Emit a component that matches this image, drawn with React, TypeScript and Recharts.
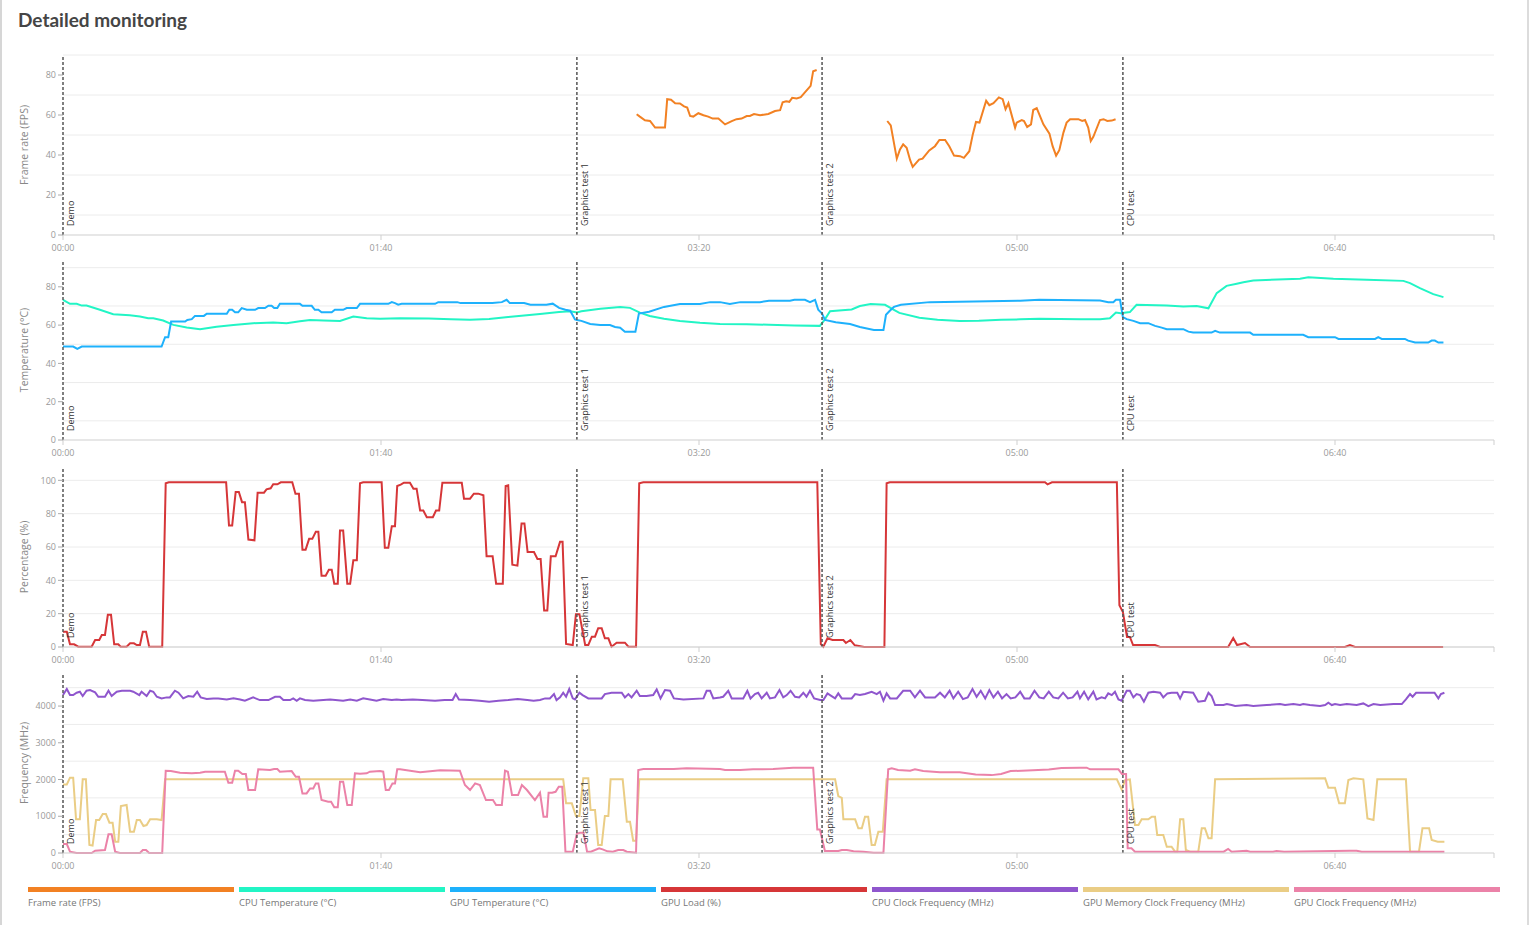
import React from "react";
import { LineChart, Line, XAxis, YAxis, ReferenceLine, CartesianGrid } from "recharts";

type Pt = [number, number | null];

// test stages (seconds)
const stageTimes = [0, 161.6, 238.7, 333.3];
const stageNames = ["Demo", "Graphics test 1", "Graphics test 2", "CPU test"];
const timeTicks = [0, 100, 200, 300, 400, 450];

const fps: Pt[] = [
  [180.4, 60.4], [181.4, 59.2], [183, 57.4], [184.6, 57], [186.2, 53.7], [189.3, 53.7], [190, 67.9], [191.2, 67.6],
  [192.5, 65.9], [194, 65.8], [195.3, 64.3], [196.3, 63.7], [197.2, 59.5], [198.2, 59.2], [199.8, 60.9], [201.4, 59.9],
  [202.9, 59.2], [204.3, 58.2], [206.1, 58.2], [208.2, 55.3], [210.3, 56.9], [211.8, 57.9], [213.4, 58.2], [215, 59.5],
  [216, 59.5], [217.3, 60.5], [219.2, 59.9], [221.8, 60.5], [223.9, 62], [225.5, 62.4], [226.3, 66.3], [227.4, 66.9],
  [228.4, 66.6], [229.3, 68.6], [230.7, 68.3], [232, 68.9], [233.3, 71.3], [235.1, 74.6], [235.9, 81.9], [237, 82.5],
  [248, null],
  [259.2, 57], [260.3, 54.8], [262.2, 38.2], [263.2, 42.8], [264.2, 45.3], [265.3, 43.6], [266.4, 37.4], [267.2, 34.1],
  [269.2, 37.7], [270.3, 38.2], [272.4, 42.3], [274.2, 44.4], [275.6, 47.5], [277.4, 47.5], [278.7, 44.4], [280.2, 39.7],
  [282.1, 39.4], [283.3, 38.6], [285, 41.9], [286.1, 50.3], [287.1, 56.5], [288.2, 56.2], [290.3, 67.1], [291.3, 64.9],
  [292.6, 65.9], [294.3, 68.8], [295.5, 67.9], [296.4, 62.9], [297.3, 65.9], [299.4, 53.7], [299.9, 56.2], [301.5, 57.5],
  [302.2, 57], [303.2, 54], [304.4, 55.3], [305.1, 62.5], [306.2, 63.4], [308.3, 55.3], [310.2, 50.7], [311.2, 44.4],
  [312.3, 39.7], [313.3, 42.4], [314.6, 51.2], [315.6, 56.2], [316.7, 57.9], [319.3, 57.9], [320.5, 57], [321.4, 57.5],
  [322.4, 53.7], [323.2, 47], [324, 49.1], [326.1, 57.5], [327.2, 57.9], [328.4, 57], [329.8, 57.2], [331, 57.9],
];

const cpuTemp: Pt[] = [
  [0, 73.2], [2.2, 71.1], [4.3, 71.1], [5.9, 70.2], [7.4, 70.2], [11.6, 68], [15.8, 65.7], [21, 65.2], [24.2, 64.5],
  [26.8, 63.6], [28.4, 63.6], [31.5, 62.4], [34.7, 60.1], [38.9, 58.7], [43.1, 57.9], [48.3, 59.2], [53.6, 60], [59.8, 61],
  [66.1, 61.3], [70.3, 61], [74.5, 62], [77.7, 62.7], [81.9, 62.4], [87.1, 62.2], [91.3, 64.5], [95.5, 63.6], [99.7, 63.3],
  [106, 63.6], [115, 63.4], [122, 63.1], [128, 62.8], [134, 63.2], [140, 64.2], [145, 65], [150, 65.8], [156, 66.8],
  [159.5, 67.2], [161.6, 66.6], [163, 67.2], [169, 68.5], [175.2, 69.5], [178.3, 69], [181.4, 66.5], [184.5, 64.8],
  [189, 63.3], [194, 62.2], [200.3, 61.2], [206.6, 60.6], [215, 60.4], [222, 60.2], [230, 59.8], [238, 59.6],
  [239.6, 63], [241.2, 67.2], [245, 67.8], [248, 68.2], [250.6, 70], [254, 71], [258.5, 70.6], [261.3, 68], [263, 66.4],
  [269.3, 63.8], [275, 62.8], [282, 62.2], [288, 62.3], [295, 62.8], [301, 63], [307, 63.3], [313.5, 63.2], [320, 63.1],
  [326.1, 63.1], [329.2, 63.6], [331.1, 66.6], [332.6, 66.2], [334.3, 66.6], [335.5, 66.8], [337.6, 70.6], [347.1, 70.2],
  [352.3, 69.7], [356.5, 70], [360.2, 68.8], [362.8, 76.7], [365.9, 80.5], [369.1, 81.6], [371.2, 82.4], [374.3, 83.3],
  [389, 84.2], [391.6, 85], [399.5, 84.2], [410, 83.7], [421.5, 83.1], [423.6, 81.9], [426.7, 79.3], [430.9, 76.2],
  [434.1, 74.6],
];

const gpuTemp: Pt[] = [
  [0, 48.8], [3.2, 48.8], [4.5, 47.6], [5.9, 48.8], [31, 48.8], [32.1, 53.7], [33.1, 53.7], [34, 61.9], [38.4, 61.9],
  [39.1, 62.7], [40.5, 63.1], [41.5, 64.8], [44.3, 64.8], [45.2, 65.9], [51.5, 65.9], [52.3, 68], [53.2, 68], [54.1, 66.7],
  [55.1, 66.7], [56.2, 68.9], [57.8, 68], [60.4, 68], [61.4, 68.9], [63.5, 68.9], [64.6, 70.1], [65.6, 70.1], [66.4, 68.9],
  [67.4, 68.9], [68.2, 71.1], [74.5, 71.1], [75.3, 70.1], [78.2, 70.1], [79.2, 68], [80.3, 68], [81.3, 66.7], [84.5, 66.7],
  [85.5, 68], [88.1, 68], [89.2, 68.9], [92.4, 68.9], [93.4, 71.1], [102.3, 71.1], [103.4, 72], [104.4, 71.5], [105.4, 70.7],
  [106.5, 71.1], [117, 71.1], [118, 72], [124, 72], [125, 71.5], [135, 71.5], [138, 72], [139.5, 73.2], [140.5, 71.5],
  [145, 71.5], [147, 70.6], [152, 70.6], [154, 71.2], [156, 69], [158, 68], [159.5, 67.5], [161, 63], [161.6, 62.7],
  [163, 62.2], [165.8, 60.6], [168.9, 60], [172, 60], [173.6, 59], [175.2, 58.6], [176.7, 56.5], [180, 56.5], [181.1, 66],
  [184.3, 67], [189, 69.5], [194, 71], [200.3, 71], [203.5, 72], [206.6, 72], [209.7, 71], [213, 72], [219.2, 72],
  [222, 72.7], [228.6, 72.7], [230, 73.2], [233.3, 73.2], [234.9, 72], [236.5, 73.2], [237.5, 68], [238.7, 66],
  [239.6, 62.7], [243, 61.5], [247.5, 60.6], [250.6, 59], [255, 57.5], [258, 57.5], [258.8, 65.4], [260, 67.5],
  [261.3, 69.5], [263.5, 70.6], [272.6, 72], [301, 72.7], [307, 73.2], [326.1, 72.8], [328.7, 72], [330.3, 72],
  [331.1, 73.2], [332.4, 73.2], [333.3, 64.2], [334.5, 63.1], [336.6, 62.2], [338.7, 61], [341.3, 61], [343.4, 59.6],
  [345.5, 58.7], [347.1, 57.9], [352.3, 57.9], [353.9, 56.6], [355.4, 56.1], [361.2, 56.1], [362.3, 57], [363.8, 56.1],
  [373.3, 56.1], [374.3, 54.9], [390, 54.9], [391.6, 53.7], [400, 53.7], [401.1, 52.8], [412.6, 52.8], [413.6, 53.7],
  [414.7, 52.8], [422, 52.8], [423, 51.9], [425.2, 50.9], [429.3, 50.9], [430.4, 51.9], [431.4, 51.9], [432.5, 50.9],
  [434.1, 50.9],
];

const gpuLoad: Pt[] = [
  [0, 9.2], [1.2, 9.2], [2.2, 1.6], [3.5, 1.6], [4.8, 0.2], [9, 0.2], [10.1, 4.2], [11.4, 4.2], [12.2, 7.2], [13.2, 7.2],
  [14.1, 19.3], [15.1, 19.3], [16.1, 1.6], [17.4, 1.6], [18.1, 0.2], [20, 0.2], [21.1, 2.2], [22.3, 2.2], [23.2, 1.2],
  [24.2, 1.2], [25.1, 9.2], [26.1, 9.2], [27.1, 0.2], [31.2, 0.2], [32.3, 98.2], [33.3, 98.8], [51.3, 98.8], [52.2, 72.9],
  [53.2, 72.9], [54.3, 93], [55.3, 93], [56.3, 86.9], [57.2, 86.9], [58.3, 64.5], [60.2, 64], [61.2, 92.6], [63.2, 92.6],
  [64, 94.6], [65.3, 95.2], [66.1, 97.6], [67.4, 97.6], [68.5, 98.8], [72.1, 98.8], [73.1, 92], [74.2, 92], [75.3, 58.4],
  [76.3, 58.4], [77.4, 64.9], [78.4, 64.9], [79.5, 69.1], [80.3, 69.1], [81.3, 42.8], [82.6, 42.8], [83.6, 46.4],
  [84.5, 46.4], [85.3, 38], [86.4, 38], [87.1, 69.9], [88.1, 69.9], [89.4, 38], [90.3, 38], [91.3, 52], [92.4, 52],
  [93.4, 98.2], [94.4, 98.8], [100.2, 98.8], [101.2, 59.5], [102.3, 59.5], [103.4, 72.5], [104.4, 72.5], [105.1, 96.6],
  [106.2, 97.4], [107.2, 98.6], [109.1, 98.6], [110.2, 95], [111.2, 95], [112.3, 81.9], [113.3, 81.9], [114.4, 77.9],
  [116.3, 77.9], [117.3, 81.9], [118.3, 81.9], [119.3, 98.6], [125.4, 98.6], [126.1, 89], [128, 89], [129.2, 92],
  [130.6, 92], [132.2, 91], [133.2, 54.4], [135.1, 54.4], [136.2, 38], [138.3, 38], [139.2, 96.6], [140, 97], [141.3, 49.4],
  [142.9, 48.8], [144.2, 74.1], [145.1, 74.1], [146.1, 57], [148.1, 57], [149.2, 52.8], [150.2, 52.8], [151.3, 21.9],
  [152.3, 21.9], [153.4, 54.4], [154.9, 54.4], [156.3, 63.1], [157.1, 63.1], [158.2, 1.8], [160.3, 1.2], [161.3, 19.7],
  [162.4, 19.7], [164.2, 1.2], [165.2, 1.2], [166.3, 6.2], [167.3, 6.2], [168.3, 11.3], [169.4, 11.3], [170.4, 5.2],
  [171.5, 5.2], [172.5, 0.2], [174.1, 2.6], [176.7, 2.6], [177.8, 0.2], [180.2, 0.2], [181.2, 98.2], [182.5, 98.8],
  [237.2, 98.8], [238.3, 1.8], [239.1, 0.2], [240.4, 5.2], [242, 4.2], [245.4, 4.2], [246.2, 2.4], [247.6, 4.2], [249, 1],
  [252, 0], [258.3, 0], [259, 98.2], [260, 98.8], [308.8, 98.8], [309.6, 97.6], [311, 98.8], [331.4, 98.8], [332.2, 25],
  [333.3, 21], [334.6, 6], [335.5, 6], [336.5, 1.2], [343.4, 1.2], [345, 0], [366.4, 0], [368, 5.4], [369.2, 1.2],
  [371.7, 2.4], [373.3, 0], [403.1, 0], [404.7, 1.2], [406.3, 0], [434, 0],
];

const cpuClock: Pt[] = [
  [0, 4299], [1.2, 4463], [2.2, 4299], [3.2, 4299], [4.3, 4363], [5.3, 4390], [6.2, 4272], [7.4, 4417], [8.5, 4435],
  [10.1, 4372], [11.1, 4254], [13.2, 4254], [14.3, 4417], [15.3, 4272], [16.9, 4390], [18.5, 4417], [21.1, 4417],
  [22.1, 4390], [24, 4299], [24.7, 4390], [26.3, 4272], [27.4, 4417], [28.4, 4390], [29.5, 4254], [31, 4209], [32.6, 4236],
  [33.6, 4236], [35.2, 4417], [36.3, 4363], [37.8, 4209], [39.4, 4272], [41, 4254], [42.2, 4390], [43.3, 4236], [45.2, 4190],
  [47.3, 4209], [48.8, 4209], [51.5, 4181], [53.6, 4209], [55.7, 4181], [57.2, 4145], [59.8, 4236], [61.9, 4163],
  [64.6, 4163], [66.7, 4254], [68.2, 4254], [69.3, 4163], [71.4, 4163], [72.4, 4209], [73.5, 4145], [74.5, 4209],
  [76.1, 4163], [78.7, 4145], [84, 4181], [88.1, 4145], [90.3, 4181], [92.4, 4145], [94.4, 4209], [96.5, 4181],
  [98.6, 4145], [100.7, 4190], [103.4, 4163], [104.9, 4181], [106.5, 4163], [110, 4181], [113, 4163], [117, 4145],
  [120, 4163], [122.5, 4163], [123.5, 4327], [124.5, 4181], [128, 4163], [131, 4145], [134, 4118], [137, 4145], [140, 4163],
  [143, 4190], [146, 4163], [148, 4145], [150, 4163], [151.6, 4209], [153.1, 4209], [154.4, 4327], [155.2, 4163],
  [156.3, 4236], [157.3, 4363], [158.2, 4254], [159.2, 4463], [160.3, 4209], [161, 4181], [162.4, 4363], [163.4, 4299],
  [165.2, 4209], [169.4, 4209], [170.4, 4327], [172.5, 4363], [175.7, 4363], [176.7, 4236], [177.8, 4327], [178.8, 4236],
  [180.4, 4417], [181.4, 4272], [183.5, 4272], [185.6, 4299], [186.7, 4454], [187.9, 4209], [189.3, 4435], [190.9, 4417],
  [192.1, 4209], [195.1, 4181], [201.4, 4209], [202.4, 4417], [203.5, 4417], [204.5, 4209], [206.6, 4236], [207.6, 4254],
  [209.2, 4417], [210.3, 4209], [213.9, 4209], [215.2, 4417], [216.2, 4209], [217.6, 4327], [218.6, 4363], [219.7, 4209],
  [221.3, 4363], [222.3, 4209], [223.9, 4236], [225.3, 4435], [226.5, 4236], [227.6, 4299], [228.8, 4417], [230.2, 4254],
  [231.5, 4236], [232.8, 4363], [233.8, 4254], [234.9, 4417], [236.2, 4209], [238.1, 4163], [239.1, 4163], [240.4, 4345],
  [241.7, 4272], [242.8, 4209], [243.8, 4345], [244.9, 4209], [248, 4209], [249.1, 4327], [250.6, 4299], [252.2, 4327],
  [254.3, 4390], [255.9, 4327], [256.9, 4390], [258, 4145], [259, 4345], [260.1, 4209], [262.2, 4209], [264.2, 4417],
  [266.4, 4417], [267.9, 4236], [269.5, 4417], [271.1, 4236], [274.2, 4236], [275.8, 4363], [277.3, 4236], [278.8, 4417],
  [280, 4209], [281.5, 4390], [283, 4190], [284.5, 4236], [286, 4463], [287.3, 4254], [288.6, 4417], [290, 4209],
  [291.3, 4435], [292.6, 4236], [294, 4390], [295.3, 4209], [296.7, 4327], [298, 4209], [299.5, 4236], [301, 4390],
  [302.3, 4209], [304, 4209], [305.5, 4417], [307, 4236], [308.4, 4209], [310, 4390], [311.4, 4236], [313, 4209],
  [314.5, 4363], [316, 4209], [317.5, 4236], [319, 4390], [319.8, 4209], [321.1, 4390], [322.4, 4181], [324, 4390],
  [325, 4181], [326.6, 4236], [327.7, 4209], [328.7, 4345], [329.8, 4299], [330.8, 4390], [331.9, 4181], [332.9, 4145],
  [334.5, 4417], [335.5, 4417], [336.6, 4236], [337.6, 4327], [338.7, 4299], [339.9, 4118], [341.3, 4363], [342.9, 4390],
  [345, 4363], [346, 4236], [347.3, 4345], [348.6, 4363], [350.4, 4363], [351.3, 4209], [352.3, 4390], [355.4, 4363],
  [357, 4118], [359.1, 4145], [360.2, 4363], [361.2, 4272], [362.3, 4027], [364.9, 4027], [366, 4054], [367.5, 4027],
  [368.6, 4000], [372.2, 4027], [374.3, 4000], [378.5, 4027], [382.7, 4054], [384.3, 4027], [386.9, 4054], [389, 4027],
  [390, 4054], [392.1, 4027], [395.3, 4000], [396.9, 4027], [397.9, 4090], [399, 4027], [400, 4054], [401.6, 4027],
  [403.7, 4054], [406.8, 4027], [408.9, 4072], [410.5, 4000], [412.1, 4054], [414.2, 4027], [418.4, 4054], [421, 4054],
  [422.3, 4181], [423.6, 4327], [424.4, 4254], [425.5, 4363], [428.1, 4363], [431.3, 4363], [432.5, 4209], [433.3, 4327],
  [434.4, 4363],
];

const gpuMemClock: Pt[] = [
  [0, 1868], [1.2, 1868], [2.2, 2050], [3.2, 2050], [4.1, 916], [5.3, 916], [6.2, 2005], [7.2, 2005], [8.3, 218], [9.3, 200],
  [10.4, 898], [11.4, 898], [12.5, 1061], [13.5, 1061], [14.6, 825], [15.6, 825], [16.4, 308], [17.4, 308], [18.2, 1279],
  [20, 1306], [21.1, 580], [22.3, 580], [23.2, 898], [24.2, 898], [25.3, 735], [26.3, 760], [27.4, 916], [29.5, 916],
  [31, 898], [32.1, 2005], [157.3, 2005], [158.2, 1351], [160, 1351], [161.3, 1007], [162.4, 1007], [163.6, 2032],
  [165.2, 2032], [165.9, 1170], [167.3, 1170], [168.3, 218], [169.4, 218], [170.4, 1007], [171.5, 1007], [172.2, 2005],
  [176, 2005], [177.3, 850], [178.3, 850], [179.3, 335], [180.2, 335], [181.2, 2005], [242.8, 2005], [243.8, 1551],
  [244.9, 1500], [245.4, 916], [249.1, 916], [250.1, 671], [251.2, 671], [252.2, 989], [253.2, 989], [254.3, 218],
  [255.3, 218], [256.4, 580], [257.8, 580], [259, 2005], [331.4, 2005], [332.9, 1733], [334, 1986], [335.5, 2005],
  [337.1, 762], [338.2, 762], [339.2, 916], [341.3, 916], [342.4, 989], [343.4, 989], [344.1, 490], [346, 490], [347.1, 172],
  [348.6, 172], [349.7, 36], [350.4, 36], [351.3, 916], [352.3, 916], [353.1, 82], [354.4, 36], [357, 36], [358.1, 671],
  [359.1, 671], [360.2, 399], [361.2, 399], [362.3, 2005], [396.9, 2032], [397.9, 1777], [400, 1777], [401.3, 1351],
  [403.1, 1351], [404.2, 1986], [405.8, 2032], [408.9, 2005], [410.2, 943], [412.1, 898], [413.3, 2005], [422.3, 2005],
  [423.6, 36], [426.4, 36], [427.5, 671], [429.6, 671], [430.4, 354], [432.3, 308], [434.4, 308],
];

const gpuClock: Pt[] = [
  [0, 245], [1.2, 245], [2.2, 36], [4.3, 0], [9, 0], [10.1, 63], [13.2, 82], [14.3, 508], [15.3, 508], [16.4, 36], [17.9, 0],
  [24.2, 0], [25.1, 82], [26.1, 82], [27.1, 0], [31.2, 0], [32.3, 2240], [33.9, 2230], [36.8, 2186], [40.5, 2168],
  [43.1, 2186], [44.7, 2213], [50.9, 2213], [52, 1913], [53.2, 1913], [54.1, 2240], [55.1, 2240], [56.4, 2150], [57.5, 2150],
  [58.3, 1714], [60.4, 1714], [61.4, 2277], [65.1, 2259], [66.4, 2286], [67.4, 2286], [68.2, 2213], [71.9, 2230],
  [73.2, 2073], [74.2, 2073], [75.3, 1623], [76.6, 1623], [77.7, 1759], [78.7, 1759], [79.5, 1895], [80.3, 1895],
  [81.3, 1442], [83.4, 1397], [84.3, 1397], [85.3, 1243], [86.4, 1243], [87.1, 1941], [88.1, 1941], [89.4, 1306],
  [90.8, 1306], [91.8, 2168], [93.4, 2159], [95.5, 2168], [96.5, 2213], [99.7, 2230], [100.7, 2213], [101.5, 1714],
  [102.5, 1714], [103.6, 1895], [104.4, 1895], [105.1, 2277], [106, 2277], [112.3, 2200], [118.6, 2250], [124.8, 2240],
  [126.4, 1850], [128, 1714], [129.6, 1895], [131.1, 1850], [133, 1442], [135.2, 1442], [136.2, 1306], [138, 1306],
  [139, 2240], [139.9, 2213], [141.2, 1578], [143.1, 1578], [144.3, 1850], [145.9, 1714], [148.4, 1442], [150, 1640],
  [151.1, 989], [152.2, 989], [152.7, 1640], [153.8, 1640], [154.9, 1665], [155.9, 1805], [157, 1805], [158, 36], [160.3, 36],
  [161.6, 531], [162.6, 553], [163.7, 553], [164.8, 36], [166, 36], [168.6, 127], [169.7, 100], [171.2, 45], [172.9, 36],
  [174.6, 82], [176.2, 82], [177.3, 36], [180.2, 9], [180.9, 2259], [182.5, 2286], [192, 2286], [196.1, 2304],
  [206.6, 2286], [208.2, 2259], [212.9, 2259], [217, 2277], [223.3, 2286], [229.6, 2322], [235.9, 2322], [237.2, 643],
  [238, 643], [239.6, 54], [243.8, 54], [244.9, 82], [246.5, 82], [248.6, 45], [251.7, 36], [254.9, 9], [258, 9],
  [259.5, 2277], [260.6, 2304], [262.6, 2259], [266.4, 2240], [267.9, 2277], [270.5, 2230], [275.8, 2195], [282, 2200],
  [287, 2140], [292, 2120], [295, 2150], [298, 2230], [305, 2250], [310, 2270], [314, 2313], [319.8, 2322], [321.9, 2322],
  [323, 2277], [331.9, 2277], [333, 2150], [334.3, 2150], [334.8, 127], [336, 127], [337.1, 36], [365, 36], [366.4, 109],
  [367.5, 36], [372.2, 63], [373.3, 36], [380.5, 36], [381.6, 55], [384, 36], [404.7, 63], [406.8, 63], [408.4, 36],
  [434.4, 36],
];

const legendNames = [
  "Frame rate (FPS)", "CPU Temperature (°C)", "GPU Temperature (°C)", "GPU Load (%)",
  "CPU Clock Frequency (MHz)", "GPU Memory Clock Frequency (MHz)", "GPU Clock Frequency (MHz)",
];
const legendColors = ["#f28123", "#22f5c5", "#1eb1fc", "#d63638", "#8f56cd", "#eacd85", "#eb82a8"];

function toRows(points: Pt[]) {
  return points.map(([t, v]) => ({ t, v }));
}

function fmtTime(t: number) {
  if (t === 450) return "";
  const m = Math.floor(t / 60);
  const s = Math.round(t % 60);
  return `${String(m).padStart(2, "0")}:${String(s).padStart(2, "0")}`;
}

interface Series {
  name: string;
  color: string;
  points: Pt[];
}

interface PanelProps {
  top: number;
  yLabel: string;
  domain: [number, number];
  ticks: number[];
  grid: number[];
  series: Series[];
}

function Panel({ top, yLabel, domain, ticks, grid, series }: PanelProps) {
  return (
    <div style={{ position: "absolute", left: 0, top }}>
      <LineChart width={1531} height={210} margin={{ top: 5, right: 37, bottom: 0, left: 0 }}>
        <CartesianGrid vertical={false} horizontalValues={grid} stroke="#ececec" />
        <XAxis
          dataKey="t"
          type="number"
          domain={[0, 450]}
          ticks={timeTicks}
          interval={0}
          tickFormatter={fmtTime}
          height={25}
          allowDuplicatedCategory={false}
          stroke="#cfcfcf"
          tickSize={5}
          tickMargin={5}
          tick={{ fontSize: 9, fill: "#999" }}
        />
        <YAxis
          type="number"
          domain={domain}
          ticks={ticks}
          width={63}
          axisLine={false}
          tickSize={5}
          tickLine={{ stroke: "#aaa" }}
          tick={{ fontSize: 9, fill: "#999" }}
          label={{
            content: (p: any) => {
              const vb = p.viewBox || { x: 0, y: 5, width: 63, height: 180 };
              const cy = vb.y + vb.height / 2;
              return (
                <text x={28} y={cy} transform={`rotate(-90, 28, ${cy})`} textAnchor="middle" fontSize={10.5} fill="#888">
                  {yLabel}
                </text>
              );
            },
          }}
        />
        {series.map((s) => (
          <Line
            key={s.name}
            name={s.name}
            data={toRows(s.points)}
            dataKey="v"
            type="linear"
            stroke={s.color}
            strokeWidth={2}
            dot={false}
            activeDot={false}
            connectNulls={false}
            isAnimationActive={false}
          />
        ))}
        {stageTimes.map((t, i) => (
          <ReferenceLine
            key={`stage-${i}`}
            x={t}
            stroke="#555"
            strokeWidth={1.5}
            strokeDasharray="3 2"
            label={{
              content: (p: any) => {
                const vb = p.viewBox;
                if (!vb) return null;
                const x = vb.x + 11;
                const y = vb.y + vb.height - 9;
                return (
                  <text x={x} y={y} transform={`rotate(-90, ${x}, ${y})`} fontSize={9} fill="#333">
                    {stageNames[i]}
                  </text>
                );
              },
            }}
          />
        ))}
      </LineChart>
    </div>
  );
}

export default function App() {
  return (
    <div
      style={{
        position: "absolute",
        left: 0,
        top: 0,
        width: 1531,
        height: 925,
        background: "#fff",
        fontFamily: '"Open Sans", sans-serif',
        overflow: "hidden",
      }}
    >
      <div style={{ position: "absolute", left: 0, top: 0, width: 2, height: 925, background: "#d6d6d6" }} />
      <div style={{ position: "absolute", left: 1527, top: 0, width: 2, height: 925, background: "#dcdcdc" }} />
      <div
        style={{
          position: "absolute",
          left: 18,
          top: 10,
          fontFamily: "Lato, sans-serif",
          fontWeight: 700,
          fontSize: 19,
          lineHeight: "19px",
          color: "#454545",
        }}
      >
        Detailed monitoring
      </div>

      <Panel
        top={50}
        yLabel="Frame rate (FPS)"
        domain={[0, 90]}
        ticks={[0, 20, 40, 60, 80]}
        grid={[0, 10, 20, 30, 40, 50, 60, 70, 80, 90]}
        series={[{ name: legendNames[0], color: legendColors[0], points: fps }]}
      />
      <Panel
        top={255}
        yLabel="Temperature (°C)"
        domain={[0, 94]}
        ticks={[0, 20, 40, 60, 80]}
        grid={[0, 10, 20, 30, 40, 50, 60, 70, 80, 90]}
        series={[
          { name: legendNames[1], color: legendColors[1], points: cpuTemp },
          { name: legendNames[2], color: legendColors[2], points: gpuTemp },
        ]}
      />
      <Panel
        top={462}
        yLabel="Percentage (%)"
        domain={[0, 108]}
        ticks={[0, 20, 40, 60, 80, 100]}
        grid={[0, 10, 20, 30, 40, 50, 60, 70, 80, 90, 100]}
        series={[{ name: legendNames[3], color: legendColors[3], points: gpuLoad }]}
      />
      <Panel
        top={668}
        yLabel="Frequency (MHz)"
        domain={[0, 4900]}
        ticks={[0, 1000, 2000, 3000, 4000]}
        grid={[0, 500, 1000, 1500, 2000, 2500, 3000, 3500, 4000, 4500]}
        series={[
          { name: legendNames[4], color: legendColors[4], points: cpuClock },
          { name: legendNames[5], color: legendColors[5], points: gpuMemClock },
          { name: legendNames[6], color: legendColors[6], points: gpuClock },
        ]}
      />

      <div style={{ position: "absolute", left: 28, top: 887, width: 1477, display: "flex" }}>
        {legendNames.map((n, i) => (
          <div key={n} style={{ width: 211, paddingRight: 5, boxSizing: "border-box" }}>
            <div style={{ height: 5, background: legendColors[i] }} />
            <div style={{ marginTop: 5, fontSize: 9.5, lineHeight: "12px", color: "#777" }}>{n}</div>
          </div>
        ))}
      </div>
    </div>
  );
}
